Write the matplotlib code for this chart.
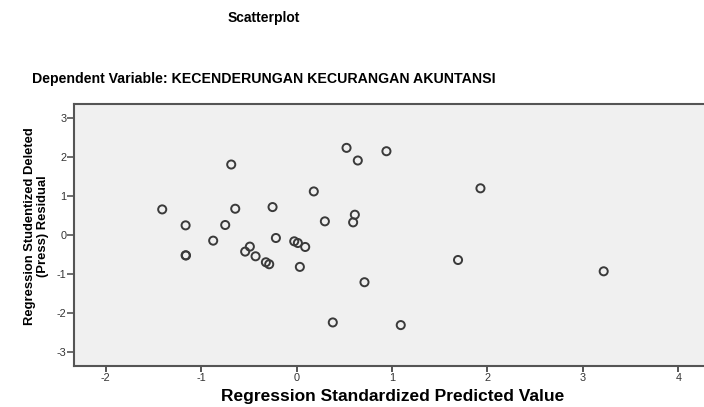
import matplotlib
matplotlib.use("Agg")
import matplotlib.pyplot as plt

# Standardized predicted value vs studentized deleted residual
predicted = [-1.407, -1.162, -1.162, -1.158, -0.873, -0.747, -0.684, -0.642,
             -0.538, -0.489, -0.429, -0.321, -0.286, -0.251, -0.216, -0.024,
             0.014, 0.035, 0.091, 0.181, 0.297, 0.380, 0.524, 0.593,
             0.611, 0.642, 0.712, 0.942, 1.092, 1.692, 1.927, 3.218]
residual = [0.656, 0.247, -0.520, -0.525, -0.145, 0.256, 1.807, 0.673,
            -0.426, -0.298, -0.546, -0.699, -0.750, 0.716, -0.077, -0.162,
            -0.205, -0.818, -0.307, 1.117, 0.350, -2.242, 2.234, 0.324,
            0.520, 1.910, -1.211, 2.148, -2.310, -0.641, 1.197, -0.931]

x_ticks = [-2, -1, 0, 1, 2, 3, 4]
y_ticks = [-3, -2, -1, 0, 1, 2, 3]

plt.rcParams["font.family"] = ["Liberation Sans", "DejaVu Sans"]
plt.rcParams["axes.unicode_minus"] = False

fig = plt.figure(figsize=(7.04, 4.07), dpi=100)
ax = fig.add_axes([0.105, 0.1015, 0.906, 0.643])
ax.set_facecolor("#f0f0f0")

ax.scatter(predicted, residual, s=34, facecolors="none", edgecolors="#3a3a3a",
           linewidths=1.4, zorder=3)

ax.set_xlim(-2.332, 4.35)
ax.set_ylim(-3.351, 3.359)
ax.set_xticks(x_ticks)
ax.set_yticks(y_ticks)
ax.tick_params(axis="x", direction="out", length=4, width=1.4,
               color="#555555", labelsize=7.8, labelcolor="#333333", pad=1.5)
ax.tick_params(axis="y", direction="out", length=5, width=1.2,
               color="#555555", labelsize=7.8, labelcolor="#333333", pad=0.5)

for side in ["left", "bottom", "top"]:
    ax.spines[side].set_color("#555555")
    ax.spines[side].set_linewidth(1.5)
ax.spines["right"].set_visible(False)

ax.set_xlabel("Regression Standardized Predicted Value", fontsize=12.5,
              fontweight="bold", labelpad=4)
ax.set_ylabel("Regression Studentized Deleted\n(Press) Residual", fontsize=9.4,
              fontweight="bold", linespacing=1.1)
ax.yaxis.set_label_coords(-0.039, 0.534)

fig.text(264 / 704, 1 - 18 / 407, "Scatterplot", ha="center", va="center",
         fontsize=10, fontweight="bold")
fig.text(264 / 704, 1 - 79 / 407,
         "Dependent Variable: KECENDERUNGAN KECURANGAN AKUNTANSI",
         ha="center", va="center", fontsize=10.2, fontweight="bold")

fig.savefig("out.png", dpi=100)
plt.close(fig)
